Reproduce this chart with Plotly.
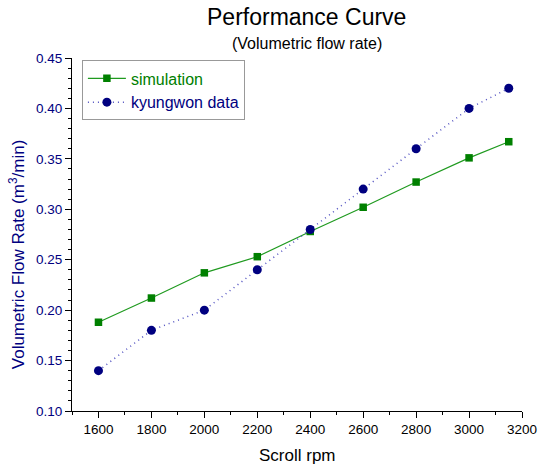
import plotly.graph_objects as go

rpm = [1600, 1800, 2000, 2200, 2400, 2600, 2800, 3000, 3150]
simulation = [0.188, 0.212, 0.237, 0.253, 0.278, 0.302, 0.327, 0.351, 0.367]
kyungwon = [0.140, 0.180, 0.200, 0.240, 0.280, 0.320, 0.360, 0.400, 0.420]

x_ticks = [1600, 1800, 2000, 2200, 2400, 2600, 2800, 3000, 3200]
y_ticks = [0.10, 0.15, 0.20, 0.25, 0.30, 0.35, 0.40, 0.45]

FONT = "Arial, 'Liberation Sans', sans-serif"
GREEN = "#008000"
NAVY = "#000080"

fig = go.Figure()
fig.add_trace(go.Scatter(
    x=rpm, y=simulation, mode="lines+markers",
    name="<span style='color:#008000'>simulation</span>",
    line=dict(color="#1f9a1f", width=1.2),
    marker=dict(symbol="square", size=7.5, color=GREEN),
))
fig.add_trace(go.Scatter(
    x=rpm, y=kyungwon, mode="lines+markers",
    name="<span style='color:#000080'>kyungwon data</span>",
    line=dict(color="#5050c0", width=1.5, dash="1px,4px"),
    marker=dict(symbol="circle", size=9, color=NAVY),
))

fig.update_layout(
    width=549, height=465,
    margin=dict(l=72, r=17, t=58, b=54),
    paper_bgcolor="white", plot_bgcolor="white",
    font=dict(family=FONT, size=13.5, color="black"),
    showlegend=True,
    legend=dict(
        x=0.022, y=0.993, xanchor="left", yanchor="top",
        bordercolor="#999999", borderwidth=1, bgcolor="white",
        font=dict(family=FONT, size=16),
        tracegroupgap=0, itemwidth=38,
    ),
)

plot_w = 549 - 72 - 17
plot_h = 465 - 58 - 54

def px(xp):
    return (xp - 72) / plot_w

def py(yp):
    return 1 - (yp - 58) / plot_h

fig.add_annotation(text="Performance Curve", x=px(312), y=py(17), xref="paper", yref="paper",
                   showarrow=False, xanchor="center", yanchor="middle",
                   font=dict(size=23, color="black", family=FONT))
fig.add_annotation(text="(Volumetric flow rate)", x=px(312), y=py(44), xref="paper", yref="paper",
                   showarrow=False, xanchor="center", yanchor="middle",
                   font=dict(size=16, color="black", family=FONT))
fig.add_annotation(
    text="Volumetric Flow Rate (m<sup>3</sup>/min)",
    x=px(16), y=py(254),
    xref="paper", yref="paper", textangle=-90, showarrow=False,
    xanchor="center", yanchor="middle",
    font=dict(size=17, color=NAVY, family=FONT),
)
fig.add_annotation(
    text="Scroll rpm",
    x=px(302), y=py(456),
    xref="paper", yref="paper", showarrow=False,
    xanchor="center", yanchor="middle",
    font=dict(size=17, color="black", family=FONT),
)

fig.update_xaxes(
    range=[1500, 3200], tickvals=x_ticks, ticktext=[str(v) for v in x_ticks],
    showgrid=False, zeroline=False, showline=True, linecolor="black", linewidth=1,
    ticks="outside", ticklen=6, tickcolor="black", tickwidth=1,
    tickfont=dict(size=13.5, color="black"),
    minor=dict(dtick=100, tick0=1500, ticks="outside", ticklen=3, tickcolor="black", showgrid=False),
)
fig.update_yaxes(
    range=[0.10, 0.45], tickvals=y_ticks, ticktext=[f"{v:.2f}" for v in y_ticks],
    showgrid=False, zeroline=False, showline=True, linecolor="black", linewidth=1,
    ticks="outside", ticklen=6, tickcolor="black", tickwidth=1,
    tickfont=dict(size=13.5, color=NAVY),
    minor=dict(dtick=0.01, tick0=0.10, ticks="outside", ticklen=3, tickcolor="black", showgrid=False),
)

fig.write_html("out.html")
